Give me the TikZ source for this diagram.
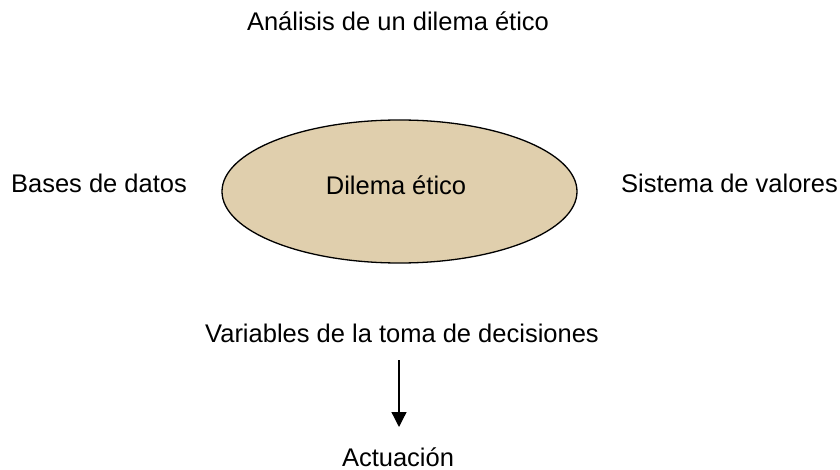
\documentclass[tikz,border=0pt]{standalone}
\usepackage{fontspec}
\setmainfont{Liberation Sans}
\usetikzlibrary{shapes.geometric,arrows.meta}
\definecolor{tan}{HTML}{E0CFAD}
\tikzset{
  lbl/.style={inner sep=0pt, font=\fontsize{25.5}{30}\selectfont, anchor=center},
  ell/.style={ellipse, draw=black, line width=1.3pt, fill=tan, minimum width=355pt, minimum height=143pt, inner sep=0pt},
  arr/.style={draw=black, line width=1.3pt, -{Triangle[width=15pt,length=15pt]}}
}
\begin{document}
\begin{tikzpicture}[x=1pt,y=-1pt]
\useasboundingbox (0,0) rectangle (840,470);
\node[ell] (e) at (399.5,191.5) {};
\node[lbl] (d) at (396,185) {Dilema ético};
\node[lbl] (t) at (398,21) {Análisis de un dilema ético};
\node[lbl] (b) at (99,183) {Bases de datos};
\node[lbl] (s) at (729.5,183) {Sistema de valores};
\node[lbl] (v) at (402,333) {Variables de la toma de decisiones};
\node[lbl] (a) at (398,457) {Actuación};
\coordinate (p1) at (399,360);
\coordinate (p2) at (399,427);
\draw[arr] (p1) -- (p2);
\end{tikzpicture}
\end{document}
